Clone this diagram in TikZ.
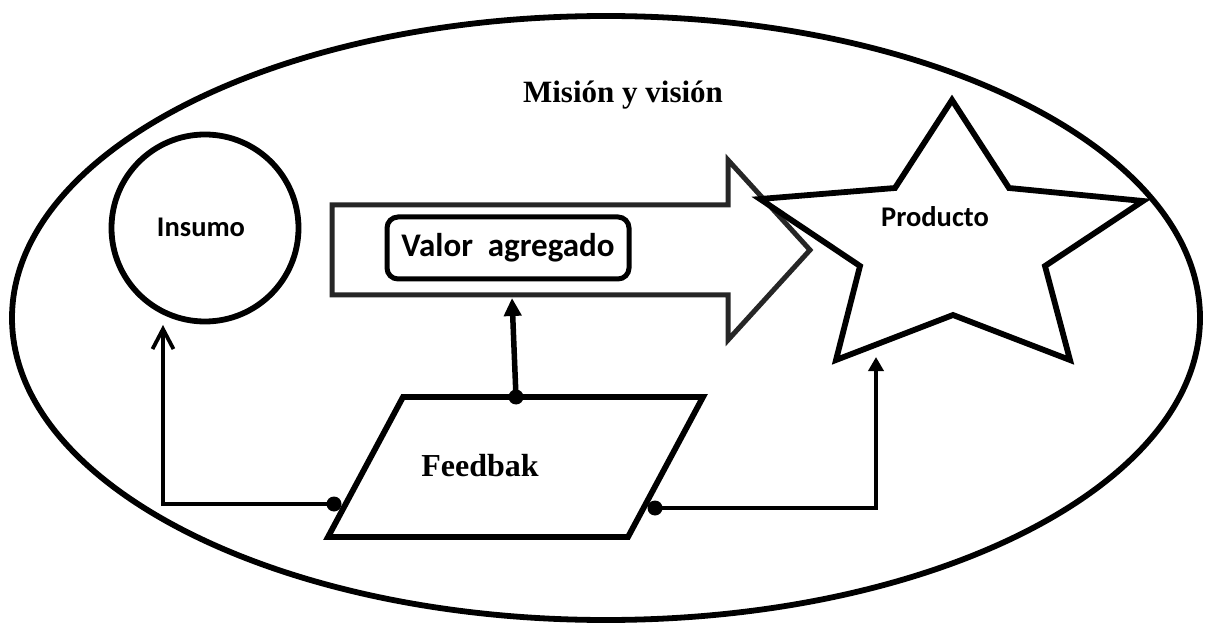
\documentclass[tikz,border=0pt]{standalone}
\usepackage{fontspec}
\setmainfont{Liberation Serif}
\newfontfamily\carl{Carlito}
\usetikzlibrary{arrows.meta}
\definecolor{arrowgray}{HTML}{262626}
\tikzset{
  shape line/.style={line width=5.8pt, line join=miter},
  conn/.style={line width=3.8pt},
  dot/.style={circle, fill=black, inner sep=0pt, minimum size=15pt},
  serif label/.style={font=\bfseries\fontsize{31}{36}\selectfont, anchor=base, inner sep=0pt},
  sans label/.style={font=\carl\bfseries\fontsize{28.5}{34}\selectfont, anchor=base, inner sep=0pt},
}
\begin{document}
\begin{tikzpicture}[x=1pt, y=-1pt]
  \useasboundingbox (0,0) rectangle (1205,628);

  % outer frame: mission and vision
  \draw[shape line] (606,318) ellipse [x radius=594, y radius=302];
  \node[serif label] (mision) at (623,103) {Misión y visión};

  % input
  \node[shape line, draw, circle, minimum size=187pt, inner sep=0pt] (insumo) at (205,228) {};
  \node[sans label] (insumoTxt) at (201,237) {Insumo};

  % process arrow
  \draw[line width=5pt, line join=miter, draw=arrowgray]
    (332,205) -- (728,205) -- (728,160) -- (810,250) -- (728,340) -- (728,295) -- (332,295) -- cycle;
  \node[draw, line width=5pt, rounded corners=11pt, minimum width=242pt, minimum height=62pt,
        inner sep=0pt, font=\carl\bfseries\fontsize{33}{38}\selectfont] (valor) at (508,248) {Valor\ \ agregado};

  % output star
  \draw[shape line]
    (952,100) -- (1009,188) -- (1143,201) -- (1045,266) -- (1070,360) -- (953,315)
    -- (836,360) -- (860,266) -- (760,199) -- (895,188) -- cycle;
  \node[sans label] (producto) at (935,227) {Producto};

  % feedback parallelogram
  \coordinate (fTL) at (403,397);
  \coordinate (fTR) at (703,397);
  \coordinate (fBR) at (628,537);
  \coordinate (fBL) at (328,537);
  \draw[shape line] (fTL) -- (fTR) -- (fBR) -- (fBL) -- cycle;
  \node[serif label, font=\bfseries\fontsize{32}{36}\selectfont] (feedbak) at (480,476) {Feedbak};

  % connector anchors
  \node[dot] (dTop) at (516,397) {};
  \node[dot] (dLeft) at (334,504) {};
  \node[dot] (dRight) at (655,508) {};
  \coordinate (toInsumo) at (163,325);
  \coordinate (toValor) at (512,298);
  \coordinate (toProducto) at (876,357);

  % feedback connectors
  \draw[conn, -{Straight Barb[length=20pt, width=21pt, line width=3.8pt]}]
    (dLeft.center) -| (toInsumo);
  \draw[conn, line width=5.5pt, -{Triangle[length=18pt, width=17pt]}]
    (dTop.center) -- (toValor);
  \draw[conn, -{Triangle[length=14pt, width=15pt]}]
    (dRight.center) -| (toProducto);
\end{tikzpicture}
\end{document}
